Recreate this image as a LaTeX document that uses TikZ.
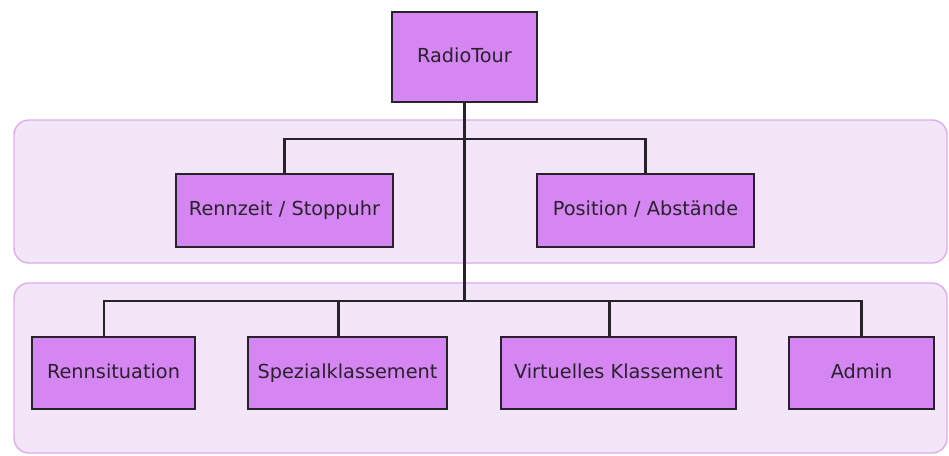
\documentclass[tikz,border=0pt]{standalone}
\usepackage{fontspec}
\setmainfont{DejaVu Sans}
\definecolor{boxc}{RGB}{213,134,242}
\definecolor{panelfill}{RGB}{243,230,248}
\definecolor{paneldraw}{RGB}{221,172,236}
\definecolor{inkc}{RGB}{40,34,42}
\tikzset{
  panelbox/.style={draw=paneldraw, fill=panelfill, line width=1.4pt, rounded corners=15pt},
  unitbox/.style={draw=inkc, fill=boxc, line width=2pt, inner sep=0pt, text=inkc,
    text height=14pt, text depth=4pt,
    font=\fontsize{19.3}{23}\selectfont},
  link/.style={draw=inkc, line width=2.2pt}
}
\begin{document}
\begin{tikzpicture}[x=1pt,y=-1pt]
\useasboundingbox (0,0) rectangle (949,455);
\draw[panelbox] (14,120) rectangle (947,263);
\draw[panelbox] (14,283) rectangle (947,453);

\node[unitbox, minimum width=145pt, minimum height=90pt] (root) at (464.5,57) {RadioTour};
\node[unitbox, minimum width=217pt, minimum height=73pt] (rz) at (284.5,210.5) {Rennzeit / Stoppuhr};
\node[unitbox, minimum width=217pt, minimum height=73pt] (pos) at (645.5,210.5) {Position / Abstände};
\node[unitbox, minimum width=163pt, minimum height=72pt] (rs) at (113.5,373) {Rennsituation};
\node[unitbox, minimum width=199pt, minimum height=72pt] (sk) at (347.5,373) {Spezialklassement};
\node[unitbox, minimum width=235pt, minimum height=72pt] (vk) at (618.5,373) {Virtuelles Klassement};
\node[unitbox, minimum width=145pt, minimum height=72pt] (ad) at (861.5,373) {Admin};

\coordinate (bus1) at (464.5,139);
\coordinate (bus2) at (464.5,301);
\coordinate (rsin) at ([xshift=-9.5pt]rs.north);
\coordinate (skin) at ([xshift=-9pt]sk.north);
\coordinate (vkin) at ([xshift=-9pt]vk.north);

\draw[link] (root.south) -- (bus2);
\draw[link] (rz.north) -- (rz.north |- bus1) -- (pos.north |- bus1) -- (pos.north);
\draw[link] (rsin) -- (rsin |- bus2) -- (ad.north |- bus2) -- (ad.north);
\draw[link] (skin) -- (skin |- bus2);
\draw[link] (vkin) -- (vkin |- bus2);
\end{tikzpicture}
\end{document}
